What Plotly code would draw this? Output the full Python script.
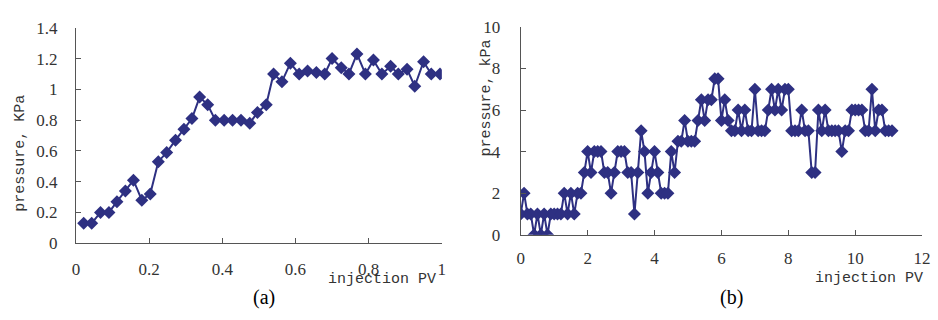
import plotly.graph_objects as go

# ---------------- data: panel (a) ----------------
pv_a = [0.021, 0.043, 0.067, 0.090, 0.112, 0.135, 0.157, 0.180, 0.203, 0.225, 0.248,
        0.272, 0.295, 0.317, 0.338, 0.360, 0.381, 0.405, 0.428, 0.451, 0.475, 0.496,
        0.520, 0.540, 0.563, 0.586, 0.610, 0.633, 0.657, 0.680, 0.700, 0.725, 0.746,
        0.768, 0.791, 0.813, 0.836, 0.860, 0.881, 0.905, 0.926, 0.950, 0.971, 0.995]
p_a = [0.13, 0.13, 0.20, 0.20, 0.27, 0.34, 0.41, 0.28, 0.32, 0.53, 0.59,
       0.67, 0.74, 0.81, 0.95, 0.90, 0.80, 0.80, 0.80, 0.80, 0.78, 0.85,
       0.90, 1.10, 1.05, 1.17, 1.10, 1.12, 1.11, 1.10, 1.20, 1.14, 1.10,
       1.23, 1.10, 1.19, 1.10, 1.15, 1.10, 1.13, 1.02, 1.18, 1.10, 1.10]

# ---------------- data: panel (b) ----------------
pv_b = [0.0, 0.1, 0.2, 0.3, 0.4, 0.5, 0.6, 0.7, 0.8, 0.9,
        1.0, 1.1, 1.2, 1.3, 1.4, 1.5, 1.6, 1.7, 1.8, 1.9,
        2.0, 2.1, 2.2, 2.3, 2.4, 2.5, 2.6, 2.7, 2.8, 2.9,
        3.0, 3.1, 3.2, 3.3, 3.4, 3.5, 3.6, 3.7, 3.8, 3.9,
        4.0, 4.1, 4.2, 4.3, 4.4, 4.5, 4.6, 4.7, 4.8, 4.9,
        5.0, 5.1, 5.2, 5.3, 5.4, 5.5, 5.6, 5.7, 5.8, 5.9,
        6.0, 6.1, 6.2, 6.3, 6.4, 6.5, 6.6, 6.7, 6.8, 6.9,
        7.0, 7.1, 7.2, 7.3, 7.4, 7.5, 7.6, 7.7, 7.8, 7.9,
        8.0, 8.1, 8.2, 8.3, 8.4, 8.5, 8.6, 8.7, 8.8, 8.9,
        9.0, 9.1, 9.2, 9.3, 9.4, 9.5, 9.6, 9.7, 9.8, 9.9,
        10.0, 10.1, 10.2, 10.3, 10.4, 10.5, 10.6, 10.7, 10.8, 10.9,
        11.0, 11.1]
p_b = [1, 2, 1, 1, 0, 1, 0, 1, 0, 1,
       1, 1, 1, 2, 1, 2, 1, 2, 2, 3,
       4, 3, 4, 4, 4, 3, 3, 2, 3, 4,
       4, 4, 3, 3, 1, 3, 5, 4, 2, 3,
       4, 3, 2, 2, 2, 4, 3, 4.5, 4.5, 5.5,
       4.5, 4.5, 4.5, 5.5, 6.5, 5.5, 6.5, 6.5, 7.5, 7.5,
       5.5, 6.5, 5.5, 5, 5, 6, 5, 6, 5, 5,
       7, 5, 5, 5, 6, 7, 6, 7, 6, 7,
       7, 5, 5, 5, 6, 5, 5, 3, 3, 6,
       5, 6, 5, 5, 5, 5, 4, 5, 5, 6,
       6, 6, 6, 5, 5, 7, 5, 6, 6, 5,
       5, 5]

x_ticks_a = [0, 0.2, 0.4, 0.6, 0.8, 1]
y_ticks_a = [0, 0.2, 0.4, 0.6, 0.8, 1, 1.2, 1.4]
x_ticks_b = [0, 2, 4, 6, 8, 10, 12]
y_ticks_b = [0, 2, 4, 6, 8, 10]

W, H = 938, 320
NAVY = "#2E3082"
AXC = "#555555"
TXT = "#333333"
SERIF = "Liberation Serif"
MONO = "Liberation Mono"

def px(x):
    return x / W

def py(y):
    return 1 - y / H

fig = go.Figure()
marker = dict(symbol="diamond", size=10, color=NAVY, line=dict(width=0))
fig.add_trace(go.Scatter(x=pv_a, y=p_a, mode="lines+markers",
                         line=dict(color=NAVY, width=2), marker=marker,
                         xaxis="x", yaxis="y", showlegend=False))
fig.add_trace(go.Scatter(x=pv_b, y=p_b, mode="lines+markers",
                         line=dict(color=NAVY, width=2), marker=marker,
                         xaxis="x2", yaxis="y2", showlegend=False))

common = dict(showgrid=False, zeroline=False, showline=True, linecolor=AXC, linewidth=1,
              ticks="inside", ticklen=5, tickcolor=AXC, tickwidth=1,
              tickfont=dict(family=SERIF, size=17, color=TXT), mirror=False)

fig.update_layout(
    width=W, height=H, autosize=False,
    margin=dict(l=0, r=0, t=0, b=0, pad=0),
    paper_bgcolor="white", plot_bgcolor="white",
    xaxis=dict(domain=[px(73), px(444)], range=[0, 1], tickvals=x_ticks_a,
               anchor="y", ticklabelstandoff=10, **common),
    yaxis=dict(domain=[py(249), py(20)], range=[0, 1.4], tickvals=y_ticks_a,
               anchor="x", ticklabelstandoff=14, **common),
    xaxis2=dict(domain=[px(524), px(931)], range=[0, 12], tickvals=x_ticks_b,
                anchor="y2", ticklabelstandoff=8, **common),
    yaxis2=dict(domain=[py(240), py(19)], range=[0, 10], tickvals=y_ticks_b,
                anchor="x2", ticklabelstandoff=16, **common),
)

ann = []
ann.append(dict(text="pressure, KPa", x=px(17), y=py(153), xref="paper", yref="paper",
                textangle=-90, showarrow=False, xanchor="center", yanchor="middle",
                font=dict(family=MONO, size=15, color=TXT)))
ann.append(dict(text="pressure, kPa", x=px(489), y=py(95), xref="paper", yref="paper",
                textangle=-90, showarrow=False, xanchor="center", yanchor="middle",
                font=dict(family=MONO, size=15, color=TXT)))
ann.append(dict(text="injection PV", x=px(383), y=py(288), xref="paper", yref="paper",
                showarrow=False, xanchor="center", yanchor="middle",
                font=dict(family=MONO, size=15, color=TXT)))
ann.append(dict(text="injection PV", x=px(877), y=py(286), xref="paper", yref="paper",
                showarrow=False, xanchor="center", yanchor="middle",
                font=dict(family=MONO, size=15, color=TXT)))
ann.append(dict(text="(a)", x=px(264), y=py(307), xref="paper", yref="paper",
                showarrow=False, xanchor="center", yanchor="middle",
                font=dict(family=SERIF, size=20, color="black")))
ann.append(dict(text="(b)", x=px(738), y=py(307), xref="paper", yref="paper",
                showarrow=False, xanchor="center", yanchor="middle",
                font=dict(family=SERIF, size=20, color="black")))
fig.update_layout(annotations=ann)

fig.write_html("out.html")
